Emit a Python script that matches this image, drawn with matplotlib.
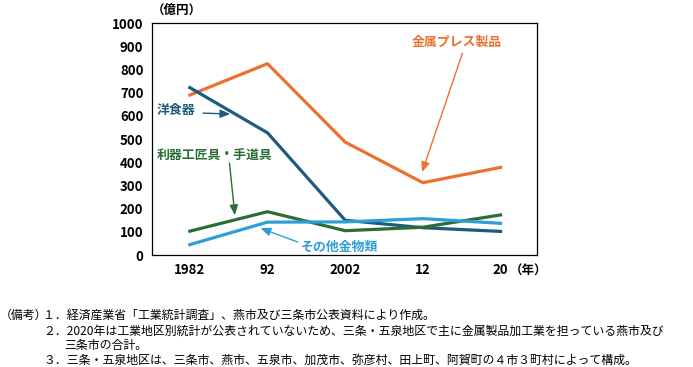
import numpy as np
import matplotlib
matplotlib.use('Agg')
import matplotlib.pyplot as plt

plt.rcParams['font.family'] = ['Noto Sans CJK JP', 'DejaVu Sans']

# データ（億円）
years = ['1982', '92', '2002', '12', '20']
press = [690, 825, 487, 312, 378]        # 金属プレス製品
yoshokki = [722, 527, 150, 118, 102]     # 洋食器
riki = [103, 187, 105, 120, 173]         # 利器工匠具・手道具
sonota = [45, 142, 143, 157, 137]        # その他金物類

notes = [
    '（備考）',
    '１．経済産業省「工業統計調査」、燕市及び三条市公表資料により作成。',
    '２．2020年は工業地区別統計が公表されていないため、三条・五泉地区で主に金属製品加工業を担っている燕市及び',
    '三条市の合計。',
    '３．三条・五泉地区は、三条市、燕市、五泉市、加茂市、弥彦村、田上町、阿賀町の４市３町村によって構成。',
]

c_press = '#ec7030'
c_yoshokki = '#1d5b80'
c_riki = '#2a6e34'
c_sonota = '#2d9fd8'

fig = plt.figure(figsize=(6.93, 3.67), dpi=100)
ax = fig.add_axes([0.219, 0.305, 0.556, 0.632])
x = np.arange(len(years))

ax.plot(x, press, color=c_press, lw=2.3)
ax.plot(x, yoshokki, color=c_yoshokki, lw=2.3)
ax.plot(x, riki, color=c_riki, lw=2.3)
ax.plot(x, sonota, color=c_sonota, lw=2.3)

ax.set_xlim(-0.49, 4.47)
ax.set_ylim(0, 1000)
ax.set_yticks(range(0, 1001, 100))
ax.set_xticks(x)
ax.set_xticklabels(years)
ax.tick_params(length=0, labelsize=9.5, pad=6)
for lab in ax.get_xticklabels() + ax.get_yticklabels():
    lab.set_fontweight('bold')
for s in ax.spines.values():
    s.set_linewidth(0.9)

ax.text(-0.17, 1055, '（億円）', fontsize=9, fontweight='bold', ha='center', va='center',
        clip_on=False)
ax.text(4.12, -0.068, '（年）', fontsize=9, fontweight='bold', ha='left', va='center',
        transform=ax.get_xaxis_transform(), clip_on=False)

# ラベル
ax.text(3.44, 918, '金属プレス製品', color=c_press, fontsize=9.3, fontweight='bold',
        ha='center', va='center')
ax.text(-0.43, 625, '洋食器', color=c_yoshokki, fontsize=9.3, fontweight='bold',
        ha='left', va='center')
ax.text(-0.42, 431, '利器工匠具・手道具', color=c_riki, fontsize=9.3, fontweight='bold',
        ha='left', va='center')
ax.text(1.43, 34, 'その他金物類', color=c_sonota, fontsize=9.3, fontweight='bold',
        ha='left', va='center')

# 矢印
arrows = [
    ((3.51, 871), (2.99, 358), c_press),
    ((0.17, 612), (0.52, 608), c_yoshokki),
    ((0.51, 397), (0.58, 172), c_riki),
    ((1.39, 56), (0.91, 116), c_sonota),
]
for tail, head, c in arrows:
    ax.annotate('', xy=head, xytext=tail,
                arrowprops=dict(arrowstyle='-|>,head_length=0.6,head_width=0.25', color=c,
                                lw=1, shrinkA=0, shrinkB=0))

fs = 8.6
fig.text(0.0, 1 - 315 / 367, notes[0], fontsize=fs, va='center')
fig.text(43 / 693, 1 - 315 / 367, notes[1], fontsize=fs, va='center')
fig.text(43 / 693, 1 - 331 / 367, notes[2], fontsize=fs, va='center')
fig.text(64 / 693, 1 - 345 / 367, notes[3], fontsize=fs, va='center')
fig.text(43 / 693, 1 - 360 / 367, notes[4], fontsize=fs, va='center')

fig.savefig('out.png', dpi=100)
